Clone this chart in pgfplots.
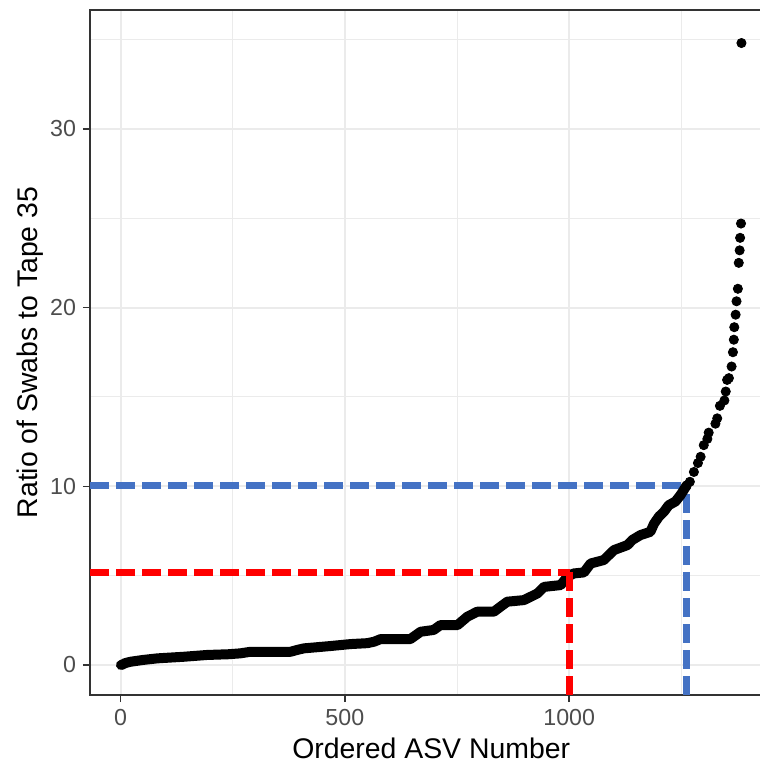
\documentclass[border=0pt]{standalone}
\usepackage{fontspec}
\setmainfont{Liberation Sans}
\usepackage{pgfplots}
\pgfplotsset{compat=1.18}
\definecolor{gridc}{HTML}{EBEBEB}
\definecolor{framec}{HTML}{333333}
\definecolor{tickc}{HTML}{4D4D4D}
\definecolor{blueline}{HTML}{4472C4}
\begin{document}
\begin{tikzpicture}
\path[use as bounding box] (-45pt,-34pt) rectangle (334.5pt,347.5pt);
\begin{axis}[
  scale only axis, width=341.2pt, height=342.5pt,
  xmin=-68, xmax=1453, ymin=-1.68, ymax=36.65,
  axis line style={framec, line width=0.7pt},
  xtick={0,500,1000}, ytick={0,10,20,30},
  minor xtick={250,750,1250}, minor ytick={5,15,25,35},
  grid=both,
  major grid style={gridc, line width=1pt},
  minor grid style={gridc, line width=0.5pt},
  tick style={framec, line width=0.7pt},
  tick align=outside, major tick length=3.5pt, minor tick length=0pt,
  tick pos=left,
  ticklabel style={font=\fontsize{11.6}{13}\selectfont, text=tickc},
  /pgf/number format/assume math mode=true,
  /pgf/number format/1000 sep={},
  xlabel={Ordered ASV Number}, ylabel={Ratio of Swabs to Tape 35},
  every axis x label/.style={at={(axis description cs:0.5,0)}, anchor=center, yshift=-26.5pt, font=\fontsize{14.2}{16}\selectfont},
  every axis y label/.style={at={(axis description cs:-0.0879,0.5)}, anchor=center, rotate=90, font=\fontsize{14.2}{16}\selectfont},
  clip=true,
]
% blue threshold lines
\addplot[blueline, line width=3.3pt, dash pattern=on 9.5pt off 3.5pt] coordinates {(-68,10.05) (1262,10.05)};
\addplot[blueline, line width=3.3pt, dash pattern=on 9.5pt off 3.5pt] coordinates {(1262,-1.68) (1262,10.05)};
% dense part of the ordered ratios
\addplot[black, line width=5pt, line cap=round, line join=round] coordinates {
(1,0.0) (4,0.02) (10,0.1) (22,0.18) (50,0.28) (82,0.37) (141,0.46) (193,0.56)
(240,0.6) (267,0.65) (290,0.74) (379,0.74) (395,0.85) (409,0.93) (468,1.06)
(513,1.17) (550,1.22) (565,1.3) (580,1.45) (646,1.45) (669,1.86) (698,1.96)
(713,2.23) (751,2.23) (773,2.7) (795,2.98) (832,2.98) (862,3.54) (899,3.63)
(929,4.0) (944,4.37) (981,4.47) (996,4.93) (1010,5.12) (1033,5.18) (1048,5.68)
(1077,5.87) (1100,6.43) (1130,6.71) (1141,7.0) (1159,7.27) (1181,7.45)
(1189,7.9) (1200,8.3) (1211,8.57) (1222,8.94) (1237,9.15) (1248,9.5) (1262,10.05)
};
% sparse tail
\addplot[only marks, mark=*, mark size=2.3pt, black] coordinates {
(1248,9.5) (1262,10.05) (1269,10.25) (1278,10.8) (1287,11.3) (1293,11.65)
(1300,12.3) (1308,12.65) (1311,13.0) (1326,13.5) (1330,13.8) (1336,14.5)
(1346,14.8) (1349,15.3) (1352,15.95) (1356,16.05) (1362,16.7) (1365,17.5)
(1367,18.2) (1368,18.9) (1371,19.6) (1373,20.35) (1376,21.05) (1378,22.5)
(1380,23.2) (1381,23.9) (1383,24.7) (1384,34.8)
};
% red threshold lines
\addplot[red, line width=3.3pt, dash pattern=on 9.5pt off 3.5pt] coordinates {(-68,5.18) (1001,5.18)};
\addplot[red, line width=3.3pt, dash pattern=on 9.5pt off 3.5pt] coordinates {(1001,-1.68) (1001,5.18)};
\end{axis}
\end{tikzpicture}
\end{document}
